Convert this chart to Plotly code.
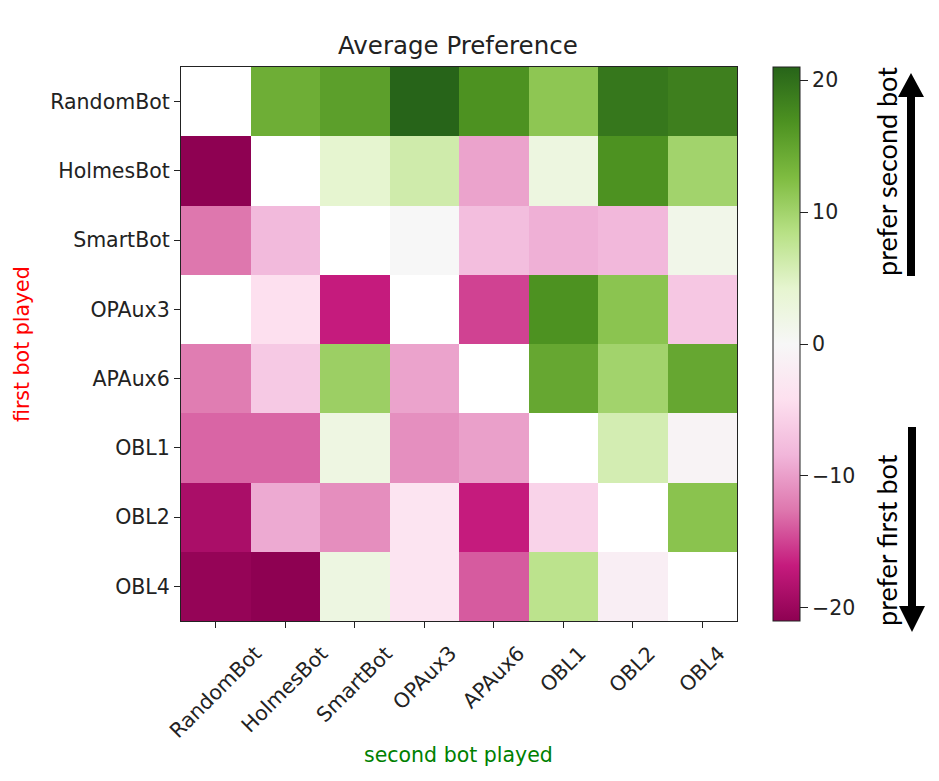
import plotly.graph_objects as go

bots = ["RandomBot", "HolmesBot", "SmartBot", "OPAux3", "APAux6", "OBL1", "OBL2", "OBL4"]

# rows: first bot played, columns: second bot played
row_randombot = [None, 14.0, 15.5, 21.0, 16.8, 11.5, 19.3, 18.5]
row_holmesbot = [-21.0, None, 4.2, 6.3, -9.7, 2.5, 16.8, 10.0]
row_smartbot = [-12.6, -8.0, None, 0.0, -7.6, -8.8, -8.2, 1.5]
row_opaux3 = [None, -4.2, -16.8, None, -15.0, 16.8, 11.7, -6.7]
row_apaux6 = [-12.2, -6.5, 10.5, -9.7, None, 14.7, 10.0, 14.7]
row_obl1 = [-13.4, -13.4, 2.3, -11.0, -9.9, None, 5.9, -0.8]
row_obl2 = [-18.9, -9.2, -11.1, -3.4, -16.8, -5.5, None, 11.8]
row_obl4 = [-20.5, -21.0, 2.4, -3.4, -13.9, 8.0, -1.7, None]

z = [row_randombot, row_holmesbot, row_smartbot, row_opaux3,
     row_apaux6, row_obl1, row_obl2, row_obl4]

cbar_ticks = [-20, -10, 0, 10, 20]
cbar_labels = ["\u221220", "\u221210", "0", "10", "20"]

piyg = ["#8e0152", "#c51b7d", "#de77ae", "#f1b6da", "#fde0ef", "#f7f7f7",
        "#e6f5d0", "#b8e186", "#7fbc41", "#4d9221", "#276419"]
colorscale = [[i / 10, c] for i, c in enumerate(piyg)]

W, H = 939, 781
L, R, T, B = 181, 737, 67, 621


def px(x):
    return (x - L) / (R - L)


def py(y):
    return (B - y) / (B - T)


fig = go.Figure(go.Heatmap(
    z=z, x=bots, y=bots, colorscale=colorscale, zmin=-21, zmax=21,
    hoverongaps=False,
    colorbar=dict(
        x=px(773), xanchor="left", xpad=0, y=1, yanchor="top", ypad=0,
        len=1, lenmode="fraction", thickness=27,
        outlinewidth=1, outlinecolor="#222",
        tickmode="array", tickvals=cbar_ticks, ticktext=cbar_labels,
        ticks="outside", ticklen=8, tickcolor="#222",
        tickfont=dict(family="DejaVu Sans", size=20.5, color="#222"),
    ),
))

axis_common = dict(
    showline=True, mirror=True, linecolor="#222", linewidth=1.2,
    ticks="outside", ticklen=6, tickcolor="#222", tickwidth=1.2,
    tickfont=dict(family="DejaVu Sans", size=20.5, color="#222"),
    showgrid=False, zeroline=False, automargin=False,
)

n = len(bots)
fig.update_layout(
    width=W, height=H,
    margin=dict(l=L, r=W - R, t=T, b=H - B),
    paper_bgcolor="white", plot_bgcolor="white",
    xaxis=dict(**axis_common, type="category", showticklabels=False,
               range=[-0.5, n - 0.5], autorange=False),
    yaxis=dict(**axis_common, type="category",
               range=[n - 0.5, -0.5], autorange=False),
    showlegend=False,
)

annotations = [
    dict(text="Average Preference", x=px(458), y=py(46), xref="paper", yref="paper",
         showarrow=False, xanchor="center", yanchor="middle",
         font=dict(family="DejaVu Sans", size=24.5, color="#222")),
    dict(text="second bot played", x=px(458), y=py(755), xref="paper", yref="paper",
         showarrow=False, xanchor="center", yanchor="middle",
         font=dict(family="DejaVu Sans", size=20.5, color="green")),
    dict(text="first bot played", x=px(22), y=py(344), xref="paper", yref="paper",
         showarrow=False, xanchor="center", yanchor="middle", textangle=-90,
         font=dict(family="DejaVu Sans", size=20.5, color="red")),
    dict(text="prefer second bot", x=px(886), y=py(172), xref="paper", yref="paper",
         showarrow=False, xanchor="center", yanchor="middle", textangle=-90,
         font=dict(family="Lato", size=27, color="black")),
    dict(text="prefer first bot", x=px(886), y=py(540), xref="paper", yref="paper",
         showarrow=False, xanchor="center", yanchor="middle", textangle=-90,
         font=dict(family="Lato", size=27, color="black")),
]
# x tick labels, rotated 45 deg and centred on each tick (matplotlib style)
for b in bots:
    annotations.append(dict(
        text=b, x=b, xref="x", y=py(640), yref="paper",
        showarrow=False, xanchor="center", yanchor="top", textangle=-45,
        borderpad=0, font=dict(family="DejaVu Sans", size=20.5, color="#222")))
fig.update_layout(annotations=annotations)


def poly(points):
    return "M " + " L ".join(f"{px(a)},{py(b)}" for a, b in points) + " Z"


shapes = [
    # up arrow
    dict(type="path", xref="paper", yref="paper", line=dict(width=0), fillcolor="black",
         path=poly([(907, 276), (915, 276), (915, 97), (924, 97), (911, 73), (898, 97), (907, 97)])),
    # down arrow
    dict(type="path", xref="paper", yref="paper", line=dict(width=0), fillcolor="black",
         path=poly([(908, 427), (916, 427), (916, 606), (925, 606), (912, 632), (899, 606), (908, 606)])),
]
fig.update_layout(shapes=shapes)

fig.write_html("out.html", config={"displayModeBar": False},
               post_script="document.body.style.margin='0';document.body.style.overflow='hidden';")
